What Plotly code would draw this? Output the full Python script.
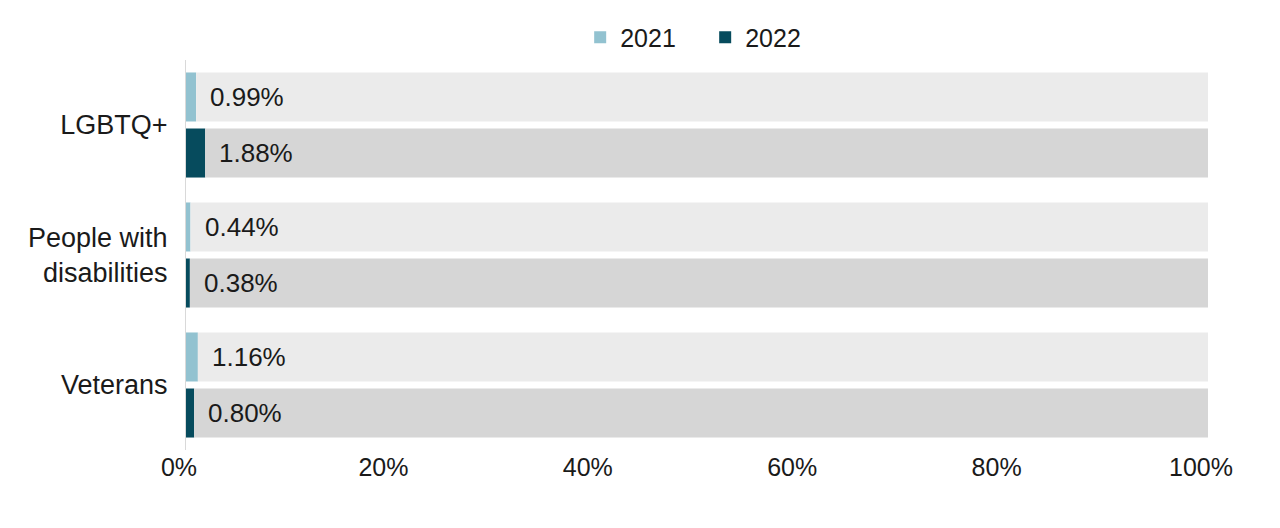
import plotly.graph_objects as go

categories = ["LGBTQ+", "People with<br>disabilities", "Veterans"]
years = ["2021", "2022"]
values_2021 = [0.99, 0.44, 1.16]
values_2022 = [1.88, 0.38, 0.80]
labels_2021 = ["0.99%", "0.44%", "1.16%"]
labels_2022 = ["1.88%", "0.38%", "0.80%"]
x_ticks = [0, 20, 40, 60, 80, 100]
x_tick_labels = ["0%", "20%", "40%", "60%", "80%", "100%"]
total = 100

bar_colors = {"2021": "#92C2D0", "2022": "#064B5D"}
bg_colors = {"2021": "#EBEBEB", "2022": "#D6D6D6"}
FONT = "Liberation Sans, Arial, sans-serif"
TXT = "#1a1a1a"

fig = go.Figure()
series = {"2021": values_2021, "2022": values_2022}
for yr in years:
    vals = series[yr]
    fig.add_trace(go.Bar(
        y=categories, x=vals, orientation="h", name=yr, offsetgroup=yr,
        marker=dict(color=bar_colors[yr], line=dict(width=0)),
        hoverinfo="skip",
    ))
    fig.add_trace(go.Bar(
        y=categories, x=[total - v for v in vals], base=vals, orientation="h",
        offsetgroup=yr, showlegend=False,
        marker=dict(color=bg_colors[yr], line=dict(width=0)),
        hoverinfo="skip",
    ))

for yr, labs, shift in (("2021", labels_2021, 28), ("2022", labels_2022, -28)):
    vals = series[yr]
    for c, v, t in zip(categories, vals, labs):
        fig.add_annotation(x=v, y=c, text=t, showarrow=False, xanchor="left",
                           xshift=12, yshift=shift,
                           font=dict(family=FONT, size=26, color=TXT))

# page body has an 8px default margin, so the figure is offset by 8px
fig.update_layout(
    width=1272, height=520,
    barmode="group", bargap=0.138, bargroupgap=0.125,
    margin=dict(l=178, r=72, t=52, b=78, autoexpand=False),
    plot_bgcolor="white", paper_bgcolor="white",
    font=dict(family=FONT, size=25, color=TXT),
    legend=dict(orientation="h", x=0.508, xanchor="center", y=1.058, yanchor="middle",
                font=dict(size=25), itemwidth=30, entrywidth=80,
                entrywidthmode="pixels", traceorder="normal"),
    xaxis=dict(range=[0, 100], tickvals=x_ticks, ticktext=x_tick_labels,
               showgrid=False, zeroline=False, showline=False, ticks="",
               ticklabelshift=-7,
               automargin=False, tickfont=dict(size=25)),
    yaxis=dict(autorange="reversed", showgrid=False, zeroline=False,
               showline=True, linecolor="#D9D9D9", linewidth=1,
               ticks="", ticklabelstandoff=12, automargin=False,
               tickfont=dict(size=27)),
)

fig.write_html("out.html")
